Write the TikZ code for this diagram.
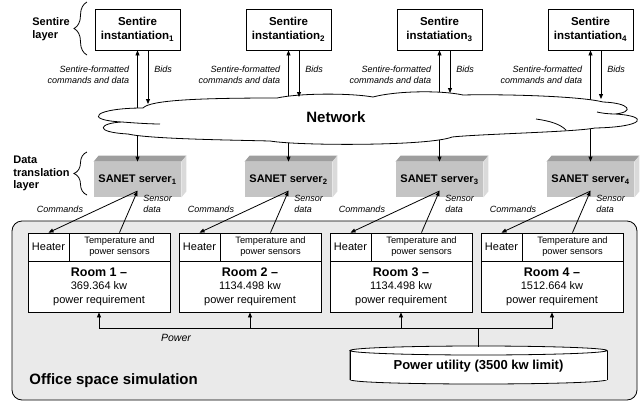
\documentclass[tikz,border=0pt]{standalone}
\usepackage{fontspec}
\setmainfont{Liberation Sans}
\usetikzlibrary{arrows.meta,decorations.pathreplacing}
\definecolor{srvfront}{RGB}{196,196,196}
\definecolor{srvtop}{RGB}{158,158,158}
\definecolor{srvside}{RGB}{218,218,218}
\definecolor{panelgray}{RGB}{234,234,234}

\begin{document}
\begin{tikzpicture}
    [
    x=1pt, y=-1pt,
    line width=0.8pt,
    >={Triangle[length=5pt,width=4pt]},
    sentire/.style={
      draw,
      fill=white,
      minimum width=85pt,
      minimum height=41pt,
      inner sep=0pt,
      align=center,
      font=\fontsize{11.5}{14}\selectfont\bfseries
    },
    server/.style={
      fill=srvfront,
      minimum width=87pt,
      minimum height=35pt,
      inner sep=0pt,
      font=\fontsize{11}{13}\selectfont\bfseries
    },
    heater/.style={
      draw,
      fill=white,
      minimum width=41pt,
      minimum height=28pt,
      inner sep=0pt,
      font=\fontsize{11}{13}\selectfont
    },
    sensors/.style={
      draw,
      fill=white,
      minimum width=101pt,
      minimum height=28pt,
      inner sep=0pt,
      align=center,
      font=\fontsize{9.3}{11}\selectfont
    },
    room/.style={
      draw,
      fill=white,
      minimum width=142pt,
      minimum height=51pt,
      inner sep=0pt,
      align=center,
      font=\fontsize{11}{13.5}\selectfont
    },
    note/.style={
      inner sep=0pt,
      font=\fontsize{9}{11}\selectfont\itshape
    },
    layer/.style={
      inner sep=0pt,
      align=left,
      font=\fontsize{11}{12.5}\selectfont\bfseries
    },
    layerbrace/.style={
      decorate,
      decoration={brace, amplitude=13pt}
    }]
    \useasboundingbox (0,0) rectangle (640,402);

    % office space panel
    \draw[rounded corners=10pt, fill=panelgray] (12,221) rectangle (637,400);
    \node at (29,381) [anchor=west, inner sep=0pt, font=\fontsize{15}{17}\selectfont\bfseries] (office) {Office space simulation};

    % layer labels
    \node at (32,29) [layer, anchor=west] (sl) {Sentire\\layer};
    \draw[layerbrace] (87,55) -- (87,2);
    \node at (13,173.5) [layer, anchor=west] (dl) {Data\\translation\\layer};
    \draw[layerbrace] (87,195) -- (87,152);

    % sentire instantiations
    \node at (137.5,29.5) [sentire] (s1) {Sentire\\instantiation\textsubscript{1}};
    \node at (288.5,29.5) [sentire] (s2) {Sentire\\instantiation\textsubscript{2}};
    \node at (439.5,29.5) [sentire] (s3) {Sentire\\instatiation\textsubscript{3}};
    \node at (590.5,29.5) [sentire] (s4) {Sentire\\instantiation\textsubscript{4}};

    % SANET servers
    \node at (137.5,179.5) [server] (v1) {SANET server\textsubscript{1}};
    \node at (288.5,179.5) [server] (v2) {SANET server\textsubscript{2}};
    \node at (439.5,179.5) [server] (v3) {SANET server\textsubscript{3}};
    \node at (590.5,179.5) [server] (v4) {SANET server\textsubscript{4}};
    \fill[srvtop] (v1.north west) -- ++(5,-6) -- ([shift={(5,-6)}]v1.north east) -- (v1.north east) -- cycle;
    \fill[srvside] (v1.north east) -- ++(5,-6) -- ([shift={(5,-6)}]v1.south east) -- (v1.south east) -- cycle;
    \fill[srvtop] (v2.north west) -- ++(5,-6) -- ([shift={(5,-6)}]v2.north east) -- (v2.north east) -- cycle;
    \fill[srvside] (v2.north east) -- ++(5,-6) -- ([shift={(5,-6)}]v2.south east) -- (v2.south east) -- cycle;
    \fill[srvtop] (v3.north west) -- ++(5,-6) -- ([shift={(5,-6)}]v3.north east) -- (v3.north east) -- cycle;
    \fill[srvside] (v3.north east) -- ++(5,-6) -- ([shift={(5,-6)}]v3.south east) -- (v3.south east) -- cycle;
    \fill[srvtop] (v4.north west) -- ++(5,-6) -- ([shift={(5,-6)}]v4.north east) -- (v4.north east) -- cycle;
    \fill[srvside] (v4.north east) -- ++(5,-6) -- ([shift={(5,-6)}]v4.south east) -- (v4.south east) -- cycle;

    % links through the network
    \coordinate (c1) at (137.5,118);
    \coordinate (c2) at (288.5,118);
    \coordinate (c3) at (439.5,118);
    \coordinate (c4) at (590.5,118);
    \draw[->] (c1) -- (s1.south);
    \draw[->] (c1) -- (v1.north);
    \draw[->] (c2) -- (s2.south);
    \draw[->] (c2) -- (v2.north);
    \draw[->] (c3) -- (s3.south);
    \draw[->] (c3) -- (v3.north);
    \draw[->] (c4) -- (s4.south);
    \draw[->] (c4) -- (v4.north);

    % network cloud
    \draw[fill=white] (143,108)
      .. controls (150,100) and (200,98) .. (277,98)
      .. controls (300,93) and (350,93) .. (373,97)
      .. controls (395,91) and (440,90) .. (463,95)
      .. controls (500,94) and (580,96) .. (603,102)
      .. controls (630,103) and (635,112) .. (615,114)
      .. controls (650,116) and (645,127) .. (595,128)
      .. controls (575,132) and (480,134) .. (452,137)
      .. controls (430,146) and (300,146) .. (270,141)
      .. controls (230,140) and (150,139) .. (128,134)
      .. controls (92,132) and (100,123) .. (122,122)
      .. controls (82,120) and (95,108) .. (143,108) -- cycle;
    \draw (122,122) .. controls (135,123) and (150,124) .. (160,124);
    \draw (615,114) .. controls (608,114) and (601,113) .. (597,112);
    \draw (566,130) .. controls (560,124) and (550,121) .. (536,119);
    \node at (336,117) [inner sep=0pt, font=\fontsize{15}{17}\selectfont\bfseries] (net) {Network};

    % bids
    \coordinate (b1) at (148,104);
    \coordinate (b2) at (299,97);
    \coordinate (b3) at (450,93);
    \coordinate (b4) at (601,99);
    \draw[->] (s1.south -| b1) -- (b1);
    \draw[->] (s2.south -| b2) -- (b2);
    \draw[->] (s3.south -| b3) -- (b3);
    \draw[->] (s4.south -| b4) -- (b4);
    \node at (154,69) [note, anchor=west] (bl1) {Bids};
    \node at (305,69) [note, anchor=west] (bl2) {Bids};
    \node at (456,69) [note, anchor=west] (bl3) {Bids};
    \node at (607,69) [note, anchor=west] (bl4) {Bids};
    \node at (129.5,74.5) [note, anchor=east, align=right] (fl1) {Sentire-formatted\\commands and data};
    \node at (280.5,74.5) [note, anchor=east, align=right] (fl2) {Sentire-formatted\\commands and data};
    \node at (431.5,74.5) [note, anchor=east, align=right] (fl3) {Sentire-formatted\\commands and data};
    \node at (582.5,74.5) [note, anchor=east, align=right] (fl4) {Sentire-formatted\\commands and data};

    % rooms
    \node at (48.5,247) [heater] (h1) {Heater};
    \node at (119.5,247) [sensors] (t1) {Temperature and\\power sensors};
    \node at (99,286.5) [room] (r1) {{\fontsize{12.5}{13.5}\selectfont\bfseries Room 1 --}\\369.364 kw\\power requirement};
    \node at (199.5,247) [heater] (h2) {Heater};
    \node at (270.5,247) [sensors] (t2) {Temperature and\\power sensors};
    \node at (250,286.5) [room] (r2) {{\fontsize{12.5}{13.5}\selectfont\bfseries Room 2 --}\\1134.498 kw\\power requirement};
    \node at (350.5,247) [heater] (h3) {Heater};
    \node at (421.5,247) [sensors] (t3) {Temperature and\\power sensors};
    \node at (401,286.5) [room] (r3) {{\fontsize{12.5}{13.5}\selectfont\bfseries Room 3 --}\\1134.498 kw\\power requirement};
    \node at (501.5,247) [heater] (h4) {Heater};
    \node at (572.5,247) [sensors] (t4) {Temperature and\\power sensors};
    \node at (552,286.5) [room] (r4) {{\fontsize{12.5}{13.5}\selectfont\bfseries Room 4 --}\\1512.664 kw\\power requirement};

    % commands and sensor data
    \coordinate (m1) at (137.5,191);
    \coordinate (m2) at (288.5,191);
    \coordinate (m3) at (439.5,191);
    \coordinate (m4) at (590.5,191);
    \draw[->] (m1) -- (h1.north);
    \draw[->] (t1.north) -- (m1);
    \draw[->] (m2) -- (h2.north);
    \draw[->] (t2.north) -- (m2);
    \draw[->] (m3) -- (h3.north);
    \draw[->] (t3.north) -- (m3);
    \draw[->] (m4) -- (h4.north);
    \draw[->] (t4.north) -- (m4);
    \node at (60,209) [note] (cl1) {Commands};
    \node at (211,209) [note] (cl2) {Commands};
    \node at (362,209) [note] (cl3) {Commands};
    \node at (513,209) [note] (cl4) {Commands};
    \node at (143,203.5) [note, anchor=west, align=left] (dt1) {Sensor\\data};
    \node at (294,203.5) [note, anchor=west, align=left] (dt2) {Sensor\\data};
    \node at (445,203.5) [note, anchor=west, align=left] (dt3) {Sensor\\data};
    \node at (596,203.5) [note, anchor=west, align=left] (dt4) {Sensor\\data};

    % power utility
    \node at (478.5,366) [minimum width=257pt, minimum height=38pt, inner sep=0pt] (pu) {};
    \draw[fill=white] (350,379.5) .. controls (350,385.5) and (607,385.5) .. (607,379.5) -- (607,350.5) -- (350,350.5) -- cycle;
    \fill[white] (350,350.5) rectangle (607,379.5);
    \draw (350,350.5) -- (350,379.5);
    \draw (607,350.5) -- (607,379.5);
    \draw[fill=white] (478.5,350.5) ellipse [x radius=128.5, y radius=4.5];
    \node at (pu) [inner sep=0pt, font=\fontsize{13}{15}\selectfont\bfseries] (put) {Power utility (3500 kw limit)};

    % power distribution
    \coordinate (pw) at (478.5,328);
    \draw (pu.north) -- (pw);
    \draw[->] (pw) -| (r1.south);
    \draw[->] (pw) -| (r2.south);
    \draw[->] (pw) -| (r3.south);
    \draw[->] (pw) -| (r4.south);
    \node at (176,338) [note, font=\fontsize{10.5}{12}\selectfont\itshape] (pl) {Power};
  \end{tikzpicture}
\end{document}
